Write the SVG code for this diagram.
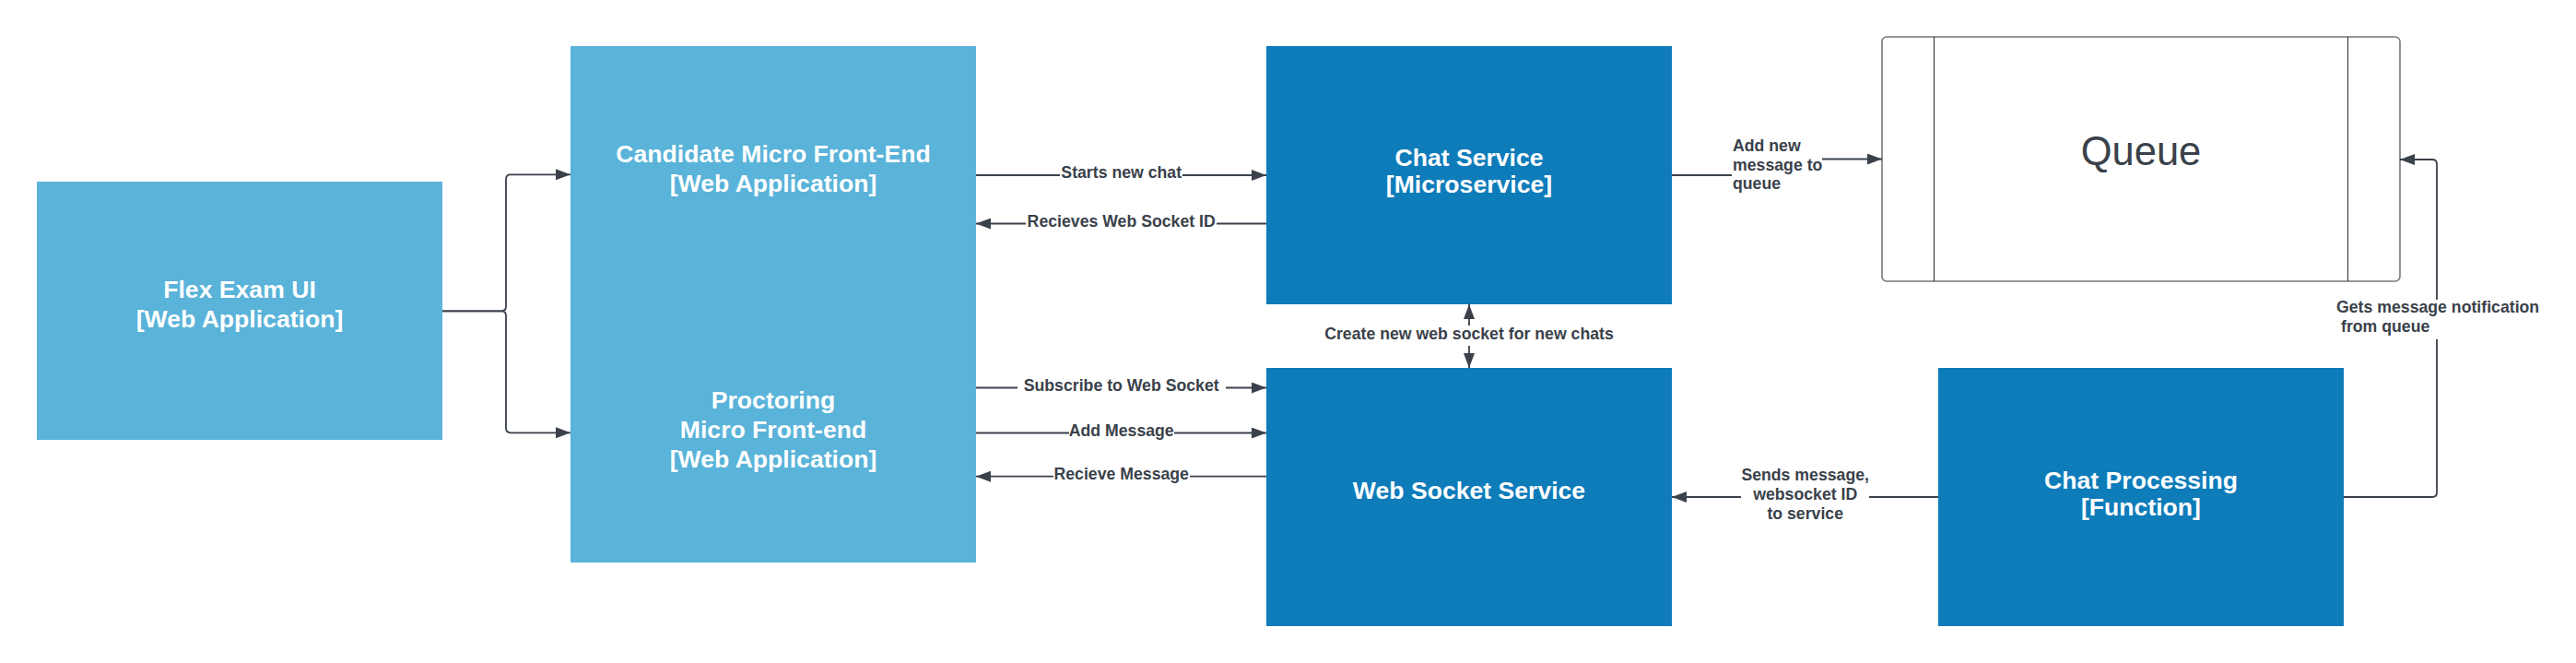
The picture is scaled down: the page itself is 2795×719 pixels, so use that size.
<svg xmlns="http://www.w3.org/2000/svg" width="2795" height="719" viewBox="0 0 2795 719">
<style>
.light{fill:#5ab3d9}
.dark{fill:#0f7cba}
.nt{font-family:"Liberation Sans",Arial,sans-serif;font-weight:bold;font-size:26.6px;fill:#ffffff;text-anchor:middle}
.lb{font-family:"Liberation Sans",Arial,sans-serif;font-weight:bold;font-size:17.7px;fill:#3a414a}
.c{text-anchor:middle}
.ln{fill:none;stroke:#3a414a;stroke-width:1.8}
.bg{fill:#ffffff}
</style>
<defs>
<marker id="ah" viewBox="0 0 16 12" refX="16" refY="6" markerWidth="16" markerHeight="12" markerUnits="userSpaceOnUse" orient="auto-start-reverse">
<path d="M0,0 L16,6 L0,12 z" fill="#3a414a"/>
</marker>
</defs>
<rect width="2795" height="719" fill="#ffffff"/>

<g id="flex-exam-ui">
<rect class="light" x="40" y="197" width="440" height="280"/>
<text class="nt" x="260" y="323">Flex Exam UI</text>
<text class="nt" x="260" y="355">[Web Application]</text>
</g>

<g id="micro-front-ends">
<rect class="light" x="619" y="50" width="440" height="560"/>
<text class="nt" x="839" y="175.5">Candidate Micro Front-End</text>
<text class="nt" x="839" y="207.5">[Web Application]</text>
<text class="nt" x="839" y="443">Proctoring</text>
<text class="nt" x="839" y="475">Micro Front-end</text>
<text class="nt" x="839" y="507">[Web Application]</text>
</g>

<g id="chat-service">
<rect class="dark" x="1374" y="50" width="440" height="280"/>
<text class="nt" x="1594" y="180">Chat Service</text>
<text class="nt" x="1594" y="209">[Microservice]</text>
</g>

<g id="web-socket-service">
<rect class="dark" x="1374" y="399" width="440" height="280"/>
<text class="nt" x="1594" y="541">Web Socket Service</text>
</g>

<g id="queue">
<rect x="2042" y="40" width="562" height="265" rx="5" ry="5" fill="#ffffff" stroke="#74787c" stroke-width="1.6"/>
<line x1="2098.5" y1="40" x2="2098.5" y2="305" stroke="#3a414a" stroke-width="1.2"/>
<line x1="2547.5" y1="40" x2="2547.5" y2="305" stroke="#3a414a" stroke-width="1.2"/>
<text x="2323" y="179" font-family="'Liberation Sans',Arial,sans-serif" font-size="43.5" fill="#3a414a" text-anchor="middle">Queue</text>
</g>

<g id="chat-processing">
<rect class="dark" x="2103" y="399" width="440" height="280"/>
<text class="nt" x="2323" y="530">Chat Processing</text>
<text class="nt" x="2323" y="559">[Function]</text>
</g>

<g id="connectors">
<path class="ln" stroke-width="1.5" d="M480 337.3 H544 Q549 337.3 549 332.3 V194.3 Q549 189.3 554 189.3 H619" marker-end="url(#ah)"/>
<path class="ln" stroke-width="1.5" d="M480 337.3 H544 Q549 337.3 549 342.3 V464.3 Q549 469.3 554 469.3 H619" marker-end="url(#ah)"/>

<path class="ln" d="M1059 190 H1374" marker-end="url(#ah)"/>
<rect class="bg" x="1150" y="178" width="133" height="22"/>
<text class="lb c" x="1216.7" y="193.3">Starts new chat</text>

<path class="ln" d="M1374 242.5 H1059" marker-end="url(#ah)"/>
<rect class="bg" x="1113" y="230" width="207" height="22"/>
<text class="lb c" x="1216.7" y="245.8">Recieves Web Socket ID</text>

<path class="ln" d="M1059 420.5 H1374" marker-end="url(#ah)"/>
<rect class="bg" x="1104" y="408" width="226" height="22"/>
<text class="lb c" x="1216.7" y="423.8">Subscribe to Web Socket</text>

<path class="ln" d="M1059 469.5 H1374" marker-end="url(#ah)"/>
<rect class="bg" x="1160" y="457" width="114" height="22"/>
<text class="lb c" x="1216.7" y="472.8">Add Message</text>

<path class="ln" d="M1374 516.7 H1059" marker-end="url(#ah)"/>
<rect class="bg" x="1143" y="504" width="148" height="22"/>
<text class="lb c" x="1216.7" y="520">Recieve Message</text>

<path class="ln" d="M1594 330 V399" marker-start="url(#ah)" marker-end="url(#ah)"/>
<rect class="bg" x="1434" y="353" width="320" height="22"/>
<text class="lb c" x="1594" y="367.7">Create new web socket for new chats</text>

<path class="ln" d="M1814 190 H1928 V172.5 H2042" marker-end="url(#ah)"/>
<rect class="bg" x="1879" y="146" width="98" height="64"/>
<text class="lb" x="1880" y="163.5">Add new</text>
<text class="lb" x="1880" y="184.5">message to</text>
<text class="lb" x="1880" y="205">queue</text>

<path class="ln" d="M2103 539 H1814" marker-end="url(#ah)"/>
<rect class="bg" x="1889" y="503" width="139" height="66"/>
<text class="lb c" x="1958.7" y="521">Sends message,</text>
<text class="lb c" x="1958.7" y="542">websocket ID</text>
<text class="lb c" x="1958.7" y="563">to service</text>

<path class="ln" d="M2543 539 H2639 Q2644 539 2644 534 V178 Q2644 173 2639 173 H2604" marker-end="url(#ah)"/>
<rect class="bg" x="2532" y="325" width="226" height="43"/>
<text class="lb" x="2535" y="339.3">Gets message notification</text>
<text class="lb" x="2540" y="360">from queue</text>
</g>
</svg>
